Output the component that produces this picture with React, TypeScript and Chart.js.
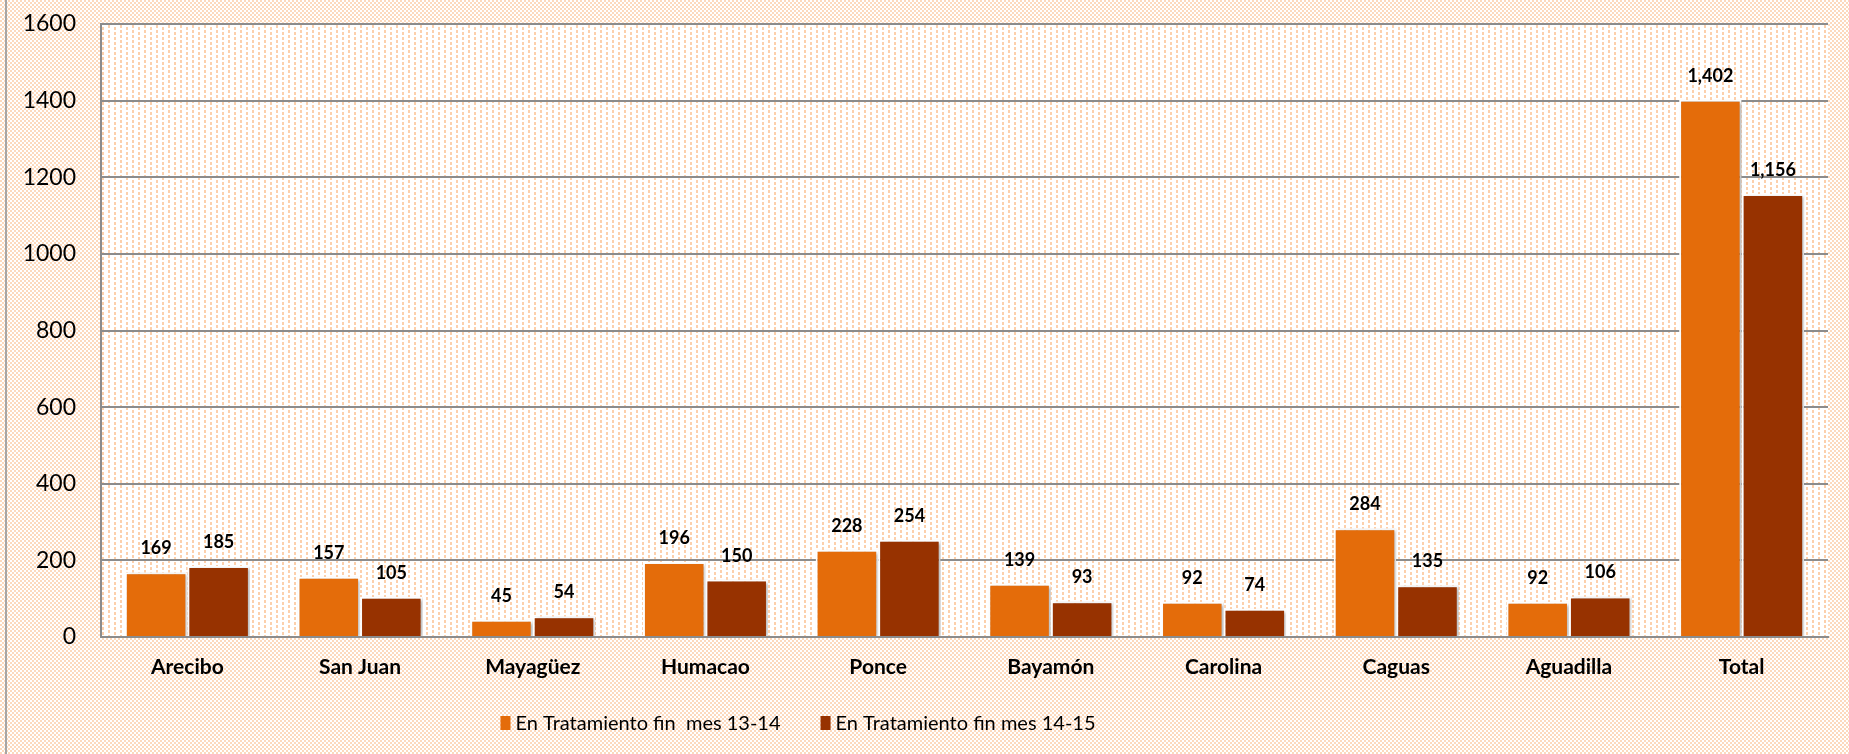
import { useEffect, useRef } from 'react';
import { Chart, registerables } from 'chart.js';

Chart.register(...registerables);

const categories = ['Arecibo', 'San Juan', 'Mayagüez', 'Humacao', 'Ponce', 'Bayamón', 'Carolina', 'Caguas', 'Aguadilla', 'Total'];
const series1Values = [169, 157, 45, 196, 228, 139, 92, 284, 92, 1402];
const series2Values = [185, 105, 54, 150, 254, 93, 74, 135, 106, 1156];
const seriesNames = ['En Tratamiento fin  mes 13-14', 'En Tratamiento fin mes 14-15'];
const seriesColors = ['#E46C0A', '#973200'];
const yMin = 0;
const yMax = 1600;
const yStep = 200;

const FONT = "Lato, 'Open Sans', sans-serif";
const W = 1849;
const H = 754;

function makePattern(ctx: CanvasRenderingContext2D, w: number, h: number, rects: number[][], color: string) {
  const c = document.createElement('canvas');
  c.width = w;
  c.height = h;
  const x = c.getContext('2d')!;
  x.fillStyle = '#ffffff';
  x.fillRect(0, 0, w, h);
  x.fillStyle = color;
  rects.forEach((r) => x.fillRect(r[0], r[1], r[2], r[3]));
  return ctx.createPattern(c, 'repeat');
}

export default function App() {
  const ref = useRef<HTMLCanvasElement | null>(null);

  useEffect(() => {
    document.body.style.margin = '0';
    const canvas = ref.current!;
    const ctx = canvas.getContext('2d')!;
    const outerPat = makePattern(ctx, 4, 4, [[0, 0, 2, 2], [2, 2, 2, 2]], '#fcd9bd');
    const innerPat = makePattern(ctx, 12, 10, [[0, 0, 2, 3], [0, 5, 2, 3], [6, 2, 2, 3], [6, 7, 2, 3]], '#fcd0ac');

    const bgPlugin = {
      id: 'bgPlugin',
      beforeDraw(chart: any) {
        const c = chart.ctx;
        const a = chart.chartArea;
        c.save();
        c.fillStyle = outerPat;
        c.fillRect(0, 0, chart.width, chart.height);
        c.fillStyle = innerPat;
        c.fillRect(a.left, a.top, a.right - a.left, a.bottom - a.top);
        c.strokeStyle = '#a6a6a6';
        c.lineWidth = 2;
        c.beginPath();
        c.moveTo(6, 0);
        c.lineTo(6, chart.height);
        c.stroke();
        c.restore();
      },
      beforeDatasetsDraw(chart: any) {
        const c = chart.ctx;
        c.save();
        c.shadowColor = 'rgba(0,0,0,0.28)';
        c.shadowOffsetX = 2;
        c.shadowOffsetY = 1;
        c.shadowBlur = 3;
      },
      afterDatasetsDraw(chart: any) {
        const c = chart.ctx;
        c.restore();
        c.save();
        c.fillStyle = '#000';
        c.font = `bold 18px ${FONT}`;
        c.textAlign = 'center';
        c.textBaseline = 'alphabetic';
        chart.data.datasets.forEach((ds: any, di: number) => {
          const meta = chart.getDatasetMeta(di);
          meta.data.forEach((bar: any, i: number) => {
            const v = ds.data[i] as number;
            c.fillText(v.toLocaleString('en-US'), bar.x, bar.y - 18);
          });
        });
        c.restore();
      },
      afterDraw(chart: any) {
        const c = chart.ctx;
        c.save();
        c.font = `20px ${FONT}`;
        c.textBaseline = 'middle';
        c.textAlign = 'left';
        const cy = 723;
        const boxW = 10;
        const textGap = 5;
        const itemGap = 40;
        const widths = chart.data.datasets.map((ds: any) => boxW + textGap + c.measureText(ds.label).width);
        const total = widths.reduce((s: number, w: number) => s + w, 0) + itemGap * (widths.length - 1);
        let x = 798 - total / 2;
        chart.data.datasets.forEach((ds: any, di: number) => {
          c.fillStyle = ds.backgroundColor;
          c.fillRect(x, cy - 7, boxW, 14);
          c.fillStyle = '#000';
          c.fillText(ds.label, x + boxW + textGap, cy + 1);
          x += widths[di] + itemGap;
        });
        c.restore();
      },
    };

    const chart = new Chart(canvas, {
      type: 'bar',
      data: {
        labels: categories,
        datasets: [
          {
            label: seriesNames[0],
            data: series1Values,
            backgroundColor: seriesColors[0],
            borderColor: '#ffffff',
            borderWidth: 2,
            categoryPercentage: 0.724,
            barPercentage: 1,
          },
          {
            label: seriesNames[1],
            data: series2Values,
            backgroundColor: seriesColors[1],
            borderColor: '#ffffff',
            borderWidth: 2,
            categoryPercentage: 0.724,
            barPercentage: 1,
          },
        ],
      },
      options: {
        responsive: false,
        animation: false,
        layout: { padding: { left: 0, right: 21, top: 24, bottom: 52 } },
        plugins: {
          legend: { display: false },
          tooltip: { enabled: false },
        },
        scales: {
          x: {
            grid: { display: false, drawTicks: false },
            border: { display: true, color: '#8c8c8c', width: 2 },
            ticks: {
              color: '#000',
              font: { family: FONT, size: 21, weight: 'bold' },
              padding: 18,
              maxRotation: 0,
              autoSkip: false,
            },
            afterFit(scale: any) {
              scale.height = 65;
              scale.paddingLeft = 0;
              scale.paddingRight = 0;
            },
          },
          y: {
            min: yMin,
            max: yMax,
            ticks: {
              stepSize: yStep,
              color: '#000',
              font: { family: FONT, size: 23 },
              padding: 25,
              callback: (v: any) => String(v),
            },
            grid: { color: '#8c8c8c', lineWidth: 2, drawTicks: false },
            border: { display: true, color: '#8c8c8c', width: 2 },
            afterFit(scale: any) {
              scale.width = 101;
              scale.paddingTop = 0;
              scale.paddingBottom = 0;
            },
          },
        },
      },
      plugins: [bgPlugin],
    } as any);

    return () => chart.destroy();
  }, []);

  return (
    <div style={{ width: W, height: H }}>
      <canvas ref={ref} width={W} height={H} style={{ display: 'block' }} />
    </div>
  );
}
